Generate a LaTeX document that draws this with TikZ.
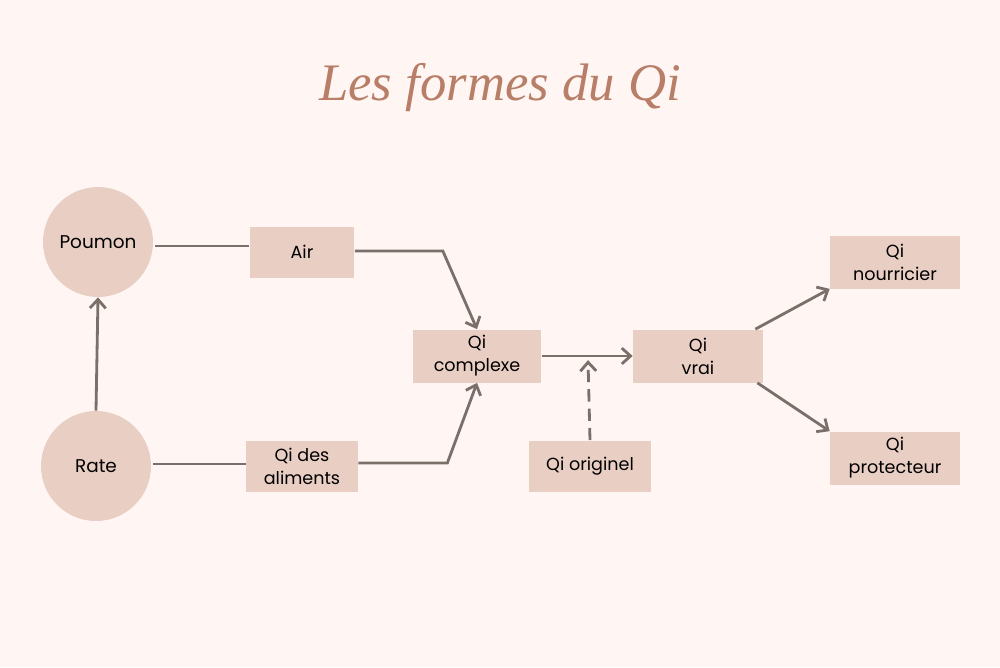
\documentclass[tikz,border=0pt]{standalone}
\usepackage{fontspec}
\setmainfont{Poppins}
\newfontfamily\titlefont{Liberation Serif}
\usetikzlibrary{arrows.meta}
\definecolor{bgpink}{HTML}{FFF6F3}
\definecolor{boxpink}{HTML}{E9CEC4}
\definecolor{linegrey}{HTML}{7B6F6A}
\definecolor{titlebrown}{HTML}{B87E68}
\tikzstyle{qbox} = [rectangle, fill=boxpink, text centered, align=center, font=\fontsize{10}{13}\selectfont, inner sep=0pt]
\tikzstyle{organ} = [circle, fill=boxpink, minimum size=2.2cm, inner sep=0pt, font=\fontsize{10.5}{13}\selectfont]
\tikzstyle{link} = [draw=linegrey, line width=1.6pt]
\tikzstyle{arrow} = [link, -{Straight Barb[length=5pt,width=9pt]}]
\begin{document}
\begin{tikzpicture}[x=0.02cm, y=-0.02cm]
            \fill[bgpink] (0,0) rectangle (1000,667);
            \useasboundingbox (0,0) rectangle (1000,667);
            \node [font=\titlefont\itshape\fontsize{30}{34}\selectfont, text=titlebrown] at (500,88) (title) {Les formes du Qi};

            \node [organ] at (98,242) (poumon) {Poumon};
            \node [organ] at (96,466) (rate) {Rate};
            \node [qbox, minimum width=2.1cm, minimum height=1.02cm] at (302,252) (air) {Air};
            \node [qbox, minimum width=2.24cm, minimum height=1.02cm] at (302,466) (aliments) {Qi des\\aliments};
            \node [qbox, minimum width=2.58cm, minimum height=1.06cm] at (477,356) (complexe) {Qi\\complexe};
            \node [qbox, minimum width=2.6cm, minimum height=1.06cm] at (698,356) (vrai) {Qi\\vrai};
            \node [qbox, minimum width=2.44cm, minimum height=1.02cm] at (590,466) (originel) {Qi originel};
            \node [qbox, minimum width=2.6cm, minimum height=1.06cm] at (895,262) (nourricier) {Qi\\nourricier};
            \node [qbox, minimum width=2.6cm, minimum height=1.06cm] at (895,458) (protecteur) {Qi\\protecteur};

            \draw [link] (poumon.east) ++(2,4) -- (air.west |- 0,246);
            \draw [arrow] (air.east) ++(0,-1) -- ++(88,0) -- (complexe.north);
            \draw [link] (rate.east) ++(2,-2) -- (aliments.west |- 0,464);
            \draw [arrow] (aliments.east) ++(0,-3) -- ++(89,0) -- (complexe.south);
            \draw [arrow] (rate.north) -- (poumon.south);
            \draw [arrow] (complexe.east) -- (vrai.west);
            \draw [arrow, dashed, dash pattern=on 7pt off 4pt] (originel.north) -- ++(-2,-80);
            \draw [arrow] (vrai.north east) ++(-8,0) -- (nourricier.south west);
            \draw [arrow] (vrai.south east) ++(-6,0) -- (protecteur.north west);
            \end{tikzpicture}
\end{document}
